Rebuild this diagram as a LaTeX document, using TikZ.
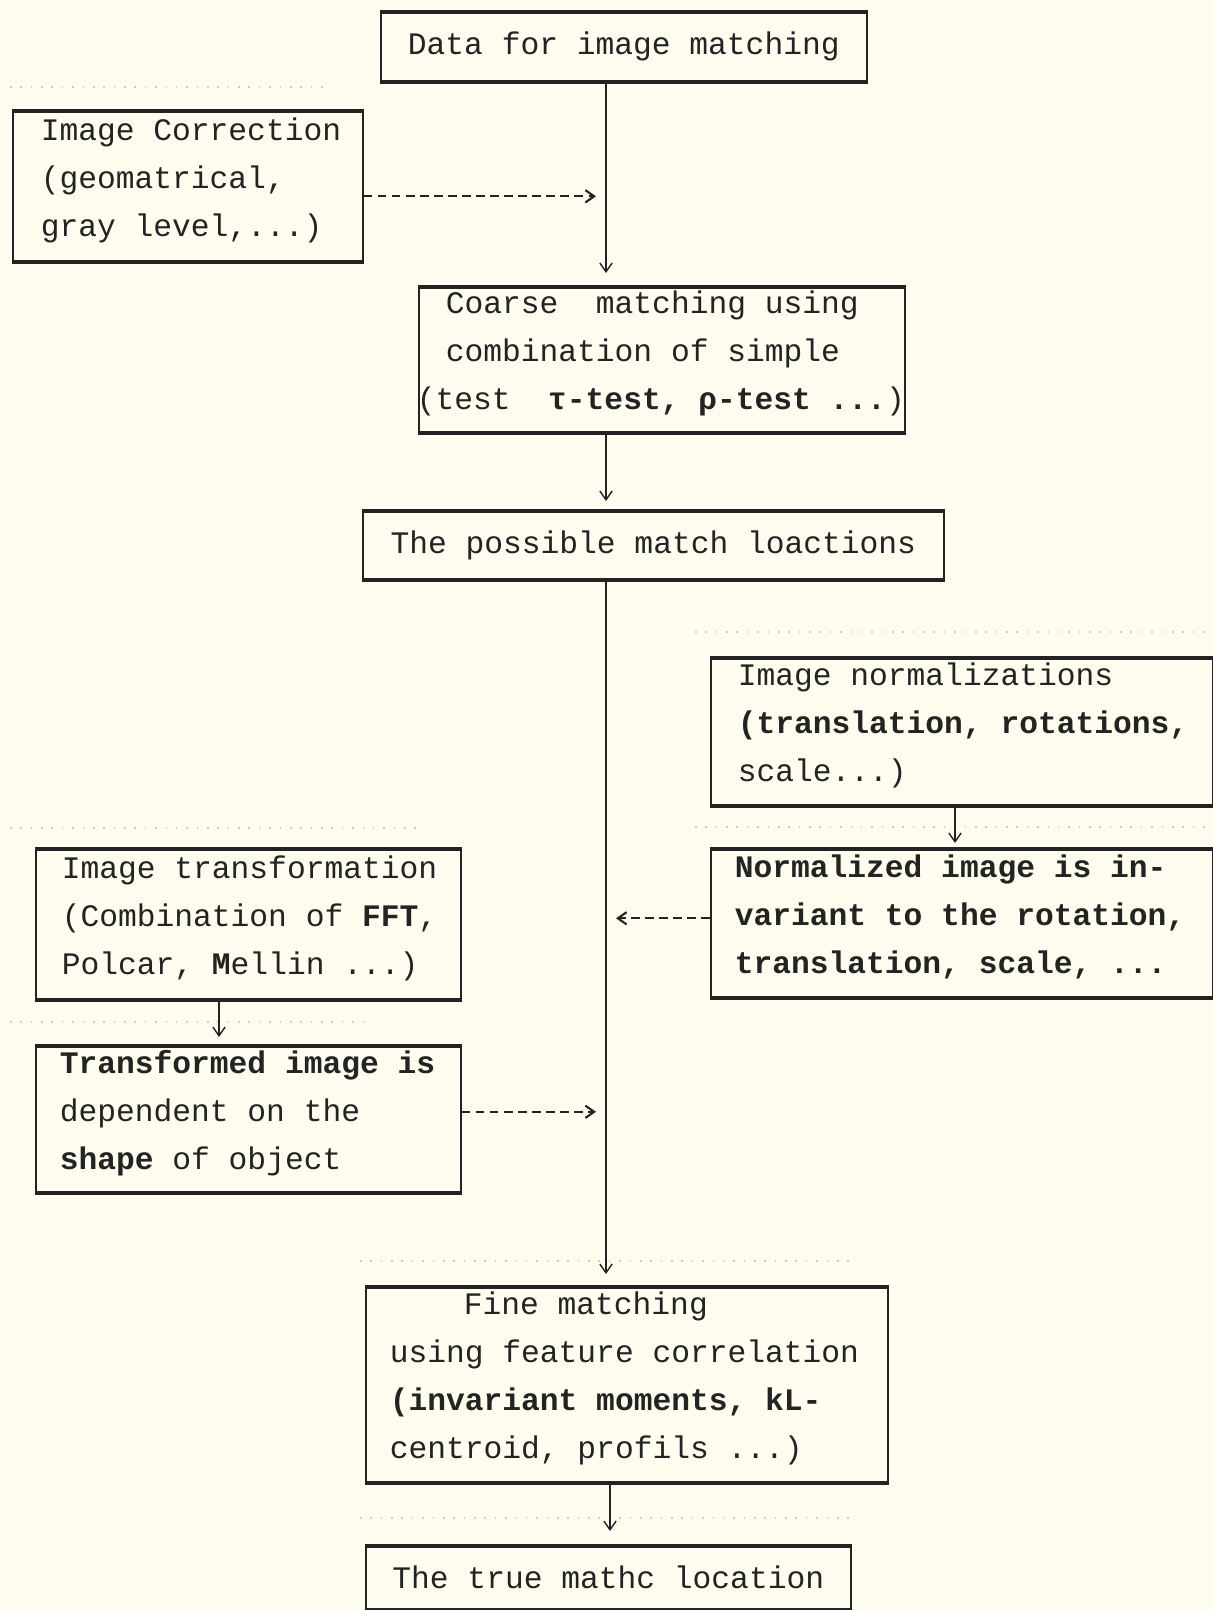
\documentclass[tikz,border=0pt]{standalone}
\usepackage{fontspec}
\newfontfamily\tw{Liberation Mono}
\usetikzlibrary{arrows.meta}
\definecolor{paper}{RGB}{253,252,238}
\definecolor{ink}{RGB}{35,35,35}

\tikzset{
  box/.style={draw=ink, line width=0.9pt, anchor=north west, inner xsep=0.1cm, inner ysep=0pt,
    text=ink, font=\tw\fontsize{17.8}{27.3}\selectfont},
  boxL/.style={box, align=left,
    execute at begin node={\leftskip=#1\spaceskip=0pt\xspaceskip=0pt},
    execute at end node={\par\vspace*{0.24cm}}},
  boxC/.style={box, align=center},
  arr/.style={draw=ink, line width=0.8pt, -{Straight Barb[length=5pt,width=7pt]}},
  darr/.style={arr, line width=1.2pt, dash pattern=on 5pt off 3pt},
  rule/.style={gray!40, line width=0.9pt, dash pattern=on 0.9pt off 5pt},
}

\begin{document}
\begin{tikzpicture}
  %背景
  \fill[paper] (0,0) rectangle (24.26,-32.2);
  \useasboundingbox (0,0) rectangle (24.26,-32.2);

  %うすい点線
  \foreach \xa/\xb/\y in {0.2/6.58/-1.74, 13.9/24.2/-12.64, 0.2/8.4/-16.56, 13.9/24.2/-16.54,
                          0.2/7.4/-20.44, 7.2/17.0/-25.22, 7.2/17.0/-30.36} {
    \draw[rule] (\xa,\y) -- (\xb,\y);
  }

  %箱
  \node[boxC, minimum width=9.72cm, minimum height=1.36cm] (data) at (7.6,-0.24) {Data for image matching};
  \node[boxL=0.46cm, text width=6.8cm, minimum height=2.98cm] (corr) at (0.24,-2.22)
    {Image Correction\\(geomatrical,\\gray level,...)};
  \node[boxL=0.44cm, text width=9.52cm, minimum height=2.88cm] (coarse) at (8.36,-5.74)
    {Coarse\ \ matching using\\combination of simple\\\mbox{\hspace*{-0.58cm}(test\ \ {\bfseries τ-test, ρ-test ...})}};
  \node[boxC, minimum width=11.62cm, minimum height=1.34cm] (poss) at (7.24,-10.22) {The possible match loactions};
  \node[boxL=0.44cm, text width=9.84cm, minimum height=2.92cm] (norm) at (14.2,-13.16)
    {Image normalizations\\{\bfseries (translation, rotations,}\\scale...)};
  \node[boxL=0.38cm, text width=9.84cm, minimum height=2.94cm] (normd) at (14.2,-16.98)
    {\bfseries Normalized image is in-\\variant to the rotation,\\translation, scale, ...};
  \node[boxL=0.42cm, text width=8.3cm, minimum height=2.98cm] (trans) at (0.7,-16.98)
    {Image transformation\\(Combination of {\bfseries FFT},\\Polcar, {\bfseries M}ellin ...)};
  \node[boxL=0.38cm, text width=8.3cm, minimum height=2.9cm] (transd) at (0.7,-20.92)
    {{\bfseries Transformed image is}\\dependent on the\\{\bfseries shape} of object};
  \node[boxL=0.38cm, text width=10.24cm, minimum height=3.88cm] (fine) at (7.3,-25.74)
    {\hspace*{1.48cm}Fine matching\\using feature correlation\\{\bfseries (invariant moments, kL-}\\centroid, profils ...)};
  \node[boxC, minimum width=9.7cm, minimum height=1.24cm] (true) at (7.3,-30.92) {The true mathc location};

  %上下の太線
  \foreach \n in {data,corr,coarse,poss,norm,normd,trans,transd,fine,true} {
    \draw[ink, line width=2.2pt] (\n.north west) -- (\n.north east);
    \draw[ink, line width=2.2pt] (\n.south west) -- (\n.south east);
  }

  %矢印
  \coordinate (ax) at (12.12,0);
  \coordinate (ax2) at (12.2,0);
  \coordinate (nx) at (19.1,0);
  \coordinate (tx) at (4.38,0);
  \coordinate (gl) at (11.92,0);
  \coordinate (gr) at (12.32,0);
  \draw[arr] (data.south -| ax) -- ([yshift=0.28cm]coarse.north -| ax);
  \draw[arr] (coarse.south -| ax) -- ([yshift=0.2cm]poss.north -| ax);
  \draw[arr] (poss.south -| ax) -- ([yshift=0.26cm]fine.north -| ax);
  \draw[arr] (fine.south -| ax2) -- ([yshift=0.3cm]true.north -| ax2);
  \draw[arr] (norm.south -| nx) -- ([yshift=0.12cm]normd.north -| nx);
  \draw[arr] (trans.south -| tx) -- ([yshift=0.18cm]transd.north -| tx);

  %点線の矢印
  \draw[darr] ([yshift=-0.2cm]corr.east) -- ([yshift=-0.2cm]corr.east -| gl);
  \draw[darr] ([yshift=0.1cm]normd.west) -- ([yshift=0.1cm]normd.west -| gr);
  \draw[darr] ([yshift=0.15cm]transd.east) -- ([yshift=0.15cm]transd.east -| gl);
\end{tikzpicture}
\end{document}
